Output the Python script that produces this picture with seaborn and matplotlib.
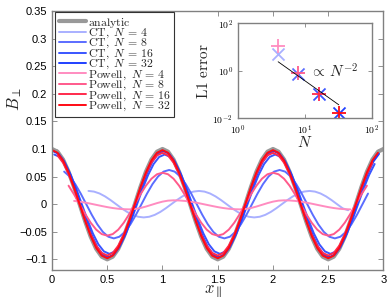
import numpy as np
import matplotlib
matplotlib.use('Agg')
import matplotlib.pyplot as plt
from matplotlib.ticker import NullLocator
import seaborn as sns

# --- Data ---
# B_perp profiles along x_parallel, sampled every 0.05 starting at x_start
dx = 0.05

analytic_start = 0.0
analytic = [0.1, 0.0951, 0.0809, 0.0588, 0.0309, 0.0, -0.0309, -0.0588, -0.0809, -0.0951,
            -0.1, -0.0951, -0.0809, -0.0588, -0.0309, 0.0, 0.0309, 0.0588, 0.0809, 0.0951,
            0.1, 0.0951, 0.0809, 0.0588, 0.0309, 0.0, -0.0309, -0.0588, -0.0809, -0.0951,
            -0.1, -0.0951, -0.0809, -0.0588, -0.0309, 0.0, 0.0309, 0.0588, 0.0809, 0.0951,
            0.1, 0.0951, 0.0809, 0.0588, 0.0309, 0.0, -0.0309, -0.0588, -0.0809, -0.0951,
            -0.1, -0.0951, -0.0809, -0.0588, -0.0309, 0.0, 0.0309, 0.0588, 0.0809, 0.0951, 0.1]

ct4_start = 0.33
ct4 = [0.024, 0.0228, 0.0194, 0.0141, 0.0074, 0.0, -0.0074, -0.0141, -0.0194, -0.0228,
       -0.024, -0.0228, -0.0194, -0.0141, -0.0074, 0.0, 0.0074, 0.0141, 0.0194, 0.0228,
       0.024, 0.0228, 0.0194, 0.0141, 0.0074, 0.0, -0.0074, -0.0141, -0.0194, -0.0228,
       -0.024, -0.0228, -0.0194, -0.0141, -0.0074, 0.0, 0.0074, 0.0141, 0.0194, 0.0228,
       0.024, 0.0228, 0.0194, 0.0141, 0.0074, 0.0, -0.0074, -0.011]

ct8_start = 0.11
ct8 = [0.059, 0.0502, 0.0365, 0.0192, 0.0, -0.0192, -0.0365, -0.0502, -0.059,
       -0.062, -0.059, -0.0502, -0.0365, -0.0192, 0.0, 0.0192, 0.0365, 0.0502, 0.059,
       0.062, 0.059, 0.0502, 0.0365, 0.0192, 0.0, -0.0192, -0.0365, -0.0502, -0.059,
       -0.062, -0.059, -0.0502, -0.0365, -0.0192, 0.0, 0.0192, 0.0365, 0.0502, 0.059,
       0.062, 0.059, 0.0502, 0.0365, 0.0192, 0.0, -0.0192, -0.0365, -0.0502, -0.059,
       -0.062, -0.059, -0.0502, -0.0365, -0.0192, 0.0, 0.0192]

ct16_start = 0.02
ct16 = [0.09, 0.0856, 0.0728, 0.0529, 0.0278, 0.0, -0.0278, -0.0529, -0.0728, -0.0856,
        -0.09, -0.0856, -0.0728, -0.0529, -0.0278, 0.0, 0.0278, 0.0529, 0.0728, 0.0856,
        0.09, 0.0856, 0.0728, 0.0529, 0.0278, 0.0, -0.0278, -0.0529, -0.0728, -0.0856,
        -0.09, -0.0856, -0.0728, -0.0529, -0.0278, 0.0, 0.0278, 0.0529, 0.0728, 0.0856,
        0.09, 0.0856, 0.0728, 0.0529, 0.0278, 0.0, -0.0278, -0.0529, -0.0728, -0.0856,
        -0.09, -0.0856, -0.0728, -0.0529, -0.0278, 0.0, 0.0278, 0.0529, 0.0728]

ct32_start = 0.01
ct32 = [0.096, 0.0913, 0.0777, 0.0564, 0.0297, 0.0, -0.0297, -0.0564, -0.0777, -0.0913,
        -0.096, -0.0913, -0.0777, -0.0564, -0.0297, 0.0, 0.0297, 0.0564, 0.0777, 0.0913,
        0.096, 0.0913, 0.0777, 0.0564, 0.0297, 0.0, -0.0297, -0.0564, -0.0777, -0.0913,
        -0.096, -0.0913, -0.0777, -0.0564, -0.0297, 0.0, 0.0297, 0.0564, 0.0777, 0.0913,
        0.096, 0.0913, 0.0777, 0.0564, 0.0297, 0.0, -0.0297, -0.0564, -0.0777, -0.0913,
        -0.096, -0.0913, -0.0777, -0.0564, -0.0297, 0.0, 0.0297, 0.0564, 0.0777, 0.0913]

pw4_start = 0.20
pw4 = [0.0059, 0.0046, 0.0029, 0.0009, -0.0012, -0.0033, -0.0053, -0.0070, -0.0083, -0.0091, -0.0094,
       -0.0088, -0.0070, -0.0043, -0.0012, 0.0019, 0.0046, 0.0064, 0.0070,
       0.0067, 0.0059, 0.0046, 0.0029, 0.0009, -0.0012, -0.0033, -0.0053, -0.0070, -0.0083, -0.0091, -0.0094,
       -0.0088, -0.0070, -0.0043, -0.0012, 0.0019, 0.0046, 0.0064, 0.0070,
       0.0067, 0.0059, 0.0046, 0.0029, 0.0009, -0.0012, -0.0033, -0.0053, -0.0070, -0.0083, -0.0091, -0.0094]

pw8_start = 0.15
pw8 = [0.0335, 0.0176, 0.0, -0.0176, -0.0335, -0.0461, -0.0542,
       -0.057, -0.0542, -0.0461, -0.0335, -0.0176, 0.0, 0.0176, 0.0335, 0.0461, 0.0542,
       0.057, 0.0542, 0.0461, 0.0335, 0.0176, 0.0, -0.0176, -0.0335, -0.0461, -0.0542,
       -0.057, -0.0542, -0.0461, -0.0335, -0.0176, 0.0, 0.0176, 0.0335, 0.0461, 0.0542,
       0.057, 0.0542, 0.0461, 0.0335, 0.0176, 0.0, -0.0176, -0.0335, -0.0461, -0.0542,
       -0.057, -0.0542, -0.0461, -0.0335, -0.0176, 0.0, 0.0176, 0.0335]

pw16_start = 0.05
pw16 = [0.0884, 0.0752, 0.0547, 0.0287, 0.0, -0.0287, -0.0547, -0.0752, -0.0884,
        -0.093, -0.0884, -0.0752, -0.0547, -0.0287, 0.0, 0.0287, 0.0547, 0.0752, 0.0884,
        0.093, 0.0884, 0.0752, 0.0547, 0.0287, 0.0, -0.0287, -0.0547, -0.0752, -0.0884,
        -0.093, -0.0884, -0.0752, -0.0547, -0.0287, 0.0, 0.0287, 0.0547, 0.0752, 0.0884,
        0.093, 0.0884, 0.0752, 0.0547, 0.0287, 0.0, -0.0287, -0.0547, -0.0752, -0.0884,
        -0.093, -0.0884, -0.0752, -0.0547, -0.0287, 0.0, 0.0287, 0.0547, 0.0752]

pw32_start = 0.0
pw32 = [0.098, 0.0932, 0.0793, 0.0576, 0.0303, 0.0, -0.0303, -0.0576, -0.0793, -0.0932,
        -0.098, -0.0932, -0.0793, -0.0576, -0.0303, 0.0, 0.0303, 0.0576, 0.0793, 0.0932,
        0.098, 0.0932, 0.0793, 0.0576, 0.0303, 0.0, -0.0303, -0.0576, -0.0793, -0.0932,
        -0.098, -0.0932, -0.0793, -0.0576, -0.0303, 0.0, 0.0303, 0.0576, 0.0793, 0.0932,
        0.098, 0.0932, 0.0793, 0.0576, 0.0303, 0.0, -0.0303, -0.0576, -0.0793, -0.0932,
        -0.098, -0.0932, -0.0793, -0.0576, -0.0303, 0.0, 0.0303, 0.0576, 0.0793, 0.0932]

# inset: L1 error vs resolution
res_N = [4, 8, 16, 32]
ct_err = [4.9, 0.75, 0.11, 0.017]
pw_err = [11.5, 0.8, 0.11, 0.017]
ref_N = [4, 32]
ref_err = [2.4, 0.037]

yticks = [-0.1, -0.05, 0, 0.05, 0.1, 0.15, 0.2, 0.25, 0.3, 0.35]
yticklabels = ['\u22120.1', '\u22120.05', '0', '0.05', '0.1', '0.15', '0.2', '0.25', '0.3', '0.35']
xticks = [0, 0.5, 1, 1.5, 2, 2.5, 3]
xticklabels = ['0', '0.5', '1', '1.5', '2', '2.5', '3']

ct_colors = ['#a9b0ff', '#5b6dff', '#3a55ff', '#2040ff']
pw_colors = ['#ff8cc0', '#ff5a8c', '#ff2a4c', '#ff0a14']

# --- Style ---
sns.set_style('white')
plt.rcParams.update({
    'font.family': ['Liberation Sans', 'DejaVu Sans'],
    'mathtext.fontset': 'cm',
    'xtick.direction': 'in', 'ytick.direction': 'in',
    'xtick.bottom': True, 'ytick.left': True,
    'xtick.top': True, 'ytick.right': True,
    'xtick.major.size': 3.5, 'ytick.major.size': 3.5,
    'xtick.major.width': 0.6, 'ytick.major.width': 0.6,
    'xtick.color': '#808080', 'ytick.color': '#808080',
    'xtick.labelcolor': 'black', 'ytick.labelcolor': 'black',
    'axes.edgecolor': '#808080', 'axes.linewidth': 1.0,
})

fig = plt.figure(figsize=(3.9, 3.03), dpi=100)
ax = fig.add_axes([0.1333, 0.1076, 0.85, 0.856])


def xs(start, vals):
    return np.round(start + dx * np.arange(len(vals)), 3)


sns.lineplot(x=xs(analytic_start, analytic), y=analytic, color='#999999', lw=3.0,
             label=r'$\mathrm{analytic}$', ax=ax)
for N, start, vals, c in zip(res_N, [ct4_start, ct8_start, ct16_start, ct32_start],
                             [ct4, ct8, ct16, ct32], ct_colors):
    sns.lineplot(x=xs(start, vals), y=vals, color=c, lw=1.4,
                 label=r'$\mathrm{CT},\ N\,=\,%d$' % N, ax=ax)
for N, start, vals, c in zip(res_N, [pw4_start, pw8_start, pw16_start, pw32_start],
                             [pw4, pw8, pw16, pw32], pw_colors):
    sns.lineplot(x=xs(start, vals), y=vals, color=c, lw=1.4,
                 label=r'$\mathrm{Powell},\ N\,=\,%d$' % N, ax=ax)

ax.set_xlim(0, 3)
ax.set_ylim(-0.12, 0.35)
ax.set_xticks(xticks)
ax.set_xticklabels(xticklabels, fontsize=8)
ax.set_yticks(yticks)
ax.set_yticklabels(yticklabels, fontsize=8)
ax.set_xlabel(r'$x_\parallel$', fontsize=12)
ax.set_ylabel(r'$B_\perp$', fontsize=12)
ax.xaxis.set_label_coords(0.485, -0.05)
ax.yaxis.set_label_coords(-0.085, 0.66)

leg = ax.legend(loc='upper left', bbox_to_anchor=(0.009, 0.996), borderaxespad=0,
                fontsize=8.5, frameon=True, fancybox=False, framealpha=1,
                labelspacing=-0.25, handlelength=2.3, handletextpad=0.2, borderpad=0.3)
leg.get_frame().set_edgecolor('#333333')
leg.get_frame().set_linewidth(0.8)

# --- Inset ---
ax_in = fig.add_axes([0.6095, 0.6096, 0.3444, 0.3135])
for N, e, c in zip(res_N, ct_err, ct_colors):
    sns.scatterplot(x=[N], y=[e], marker='x', color=c, s=75, linewidth=1.3, ax=ax_in)
for N, e, c in zip(res_N, pw_err, pw_colors):
    sns.scatterplot(x=[N], y=[e], marker='+', color=c, s=110, linewidth=1.3, ax=ax_in)
sns.lineplot(x=ref_N, y=ref_err, color='black', lw=0.6, ax=ax_in)
ax_in.text(12, 0.9, r'$\propto\,N^{-2}$', fontsize=11, ha='left', va='center')

ax_in.set_xscale('log')
ax_in.set_yscale('log')
ax_in.set_xlim(1, 100)
ax_in.set_ylim(0.01, 100)
ax_in.set_xticks([1, 10, 100])
ax_in.set_xticklabels([r'$\mathsf{10^{0}}$', r'$\mathsf{10^{1}}$', r'$\mathsf{10^{2}}$'], fontsize=7)
ax_in.set_yticks([0.01, 1, 100])
ax_in.set_yticklabels([r'$\mathsf{10^{-2}}$', r'$\mathsf{10^{0}}$', r'$\mathsf{10^{2}}$'], fontsize=7)
ax_in.xaxis.set_minor_locator(NullLocator())
ax_in.yaxis.set_minor_locator(NullLocator())
ax_in.tick_params(length=3)
ax_in.set_xlabel(r'$N$', fontsize=11, labelpad=-1)
ax_in.set_ylabel(r'$\mathrm{L1\ error}$', fontsize=11, labelpad=1)

fig.savefig('out.png', dpi=100)
